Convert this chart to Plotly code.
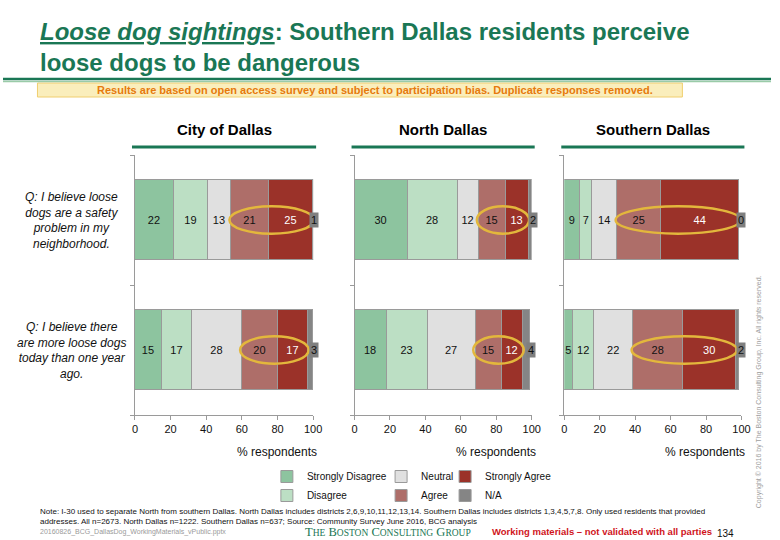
import plotly.graph_objects as go

# ---------------- data ----------------
panels = ["City of Dallas", "North Dallas", "Southern Dallas"]
questions = [
    "Q: I believe loose<br>dogs are a safety<br>problem in my<br>neighborhood.",
    "Q: I believe there<br>are more loose dogs<br>today than one year<br>ago.",
]
responses = ["Strongly Disagree", "Disagree", "Neutral", "Agree", "Strongly Agree", "N/A"]
colors = ["#8DC49F", "#BCDFC4", "#E0E0E0", "#AE6E69", "#9B3229", "#858585"]

city_safety = [22, 19, 13, 21, 25, 1]
city_more = [15, 17, 28, 20, 17, 3]
north_safety = [30, 28, 12, 15, 13, 2]
north_more = [18, 23, 27, 15, 12, 4]
south_safety = [9, 7, 14, 25, 44, 0]
south_more = [5, 12, 22, 28, 30, 2]

panel_data = [
    [city_safety, city_more],
    [north_safety, north_more],
    [south_safety, south_more],
]
x_ticks = [0, 20, 40, 60, 80, 100]

# ---------------- layout helpers ----------------
W, H = 780, 540
FONT = "Liberation Sans, Arial, Helvetica, sans-serif"
GREEN = "#1A7755"

def px(x):
    return x / W

def py(y):
    return (H - y) / H

def note(x, y, text, size, color="#111111", xanchor="center", yanchor="middle", **kw):
    fig.add_annotation(x=x, y=y, xref=kw.pop("xref", "paper"), yref=kw.pop("yref", "paper"),
                       xanchor=xanchor, yanchor=yanchor, text=text, showarrow=False,
                       font=dict(family=kw.pop("family", FONT), size=size, color=color), **kw)

x_domains = [[px(134), px(315)], [px(357), px(537)], [px(570), px(750)]]
y_domain = [py(415), py(155)]

fig = go.Figure()

legend_of = {0: "legend", 1: "legend", 2: "legend2", 3: "legend2", 4: "legend3", 5: "legend3"}

for p, rows in enumerate(panel_data):
    xa = "x" if p == 0 else f"x{p+1}"
    ya = "y" if p == 0 else f"y{p+1}"
    for r, name in enumerate(responses):
        vals = [rows[0][r], rows[1][r]]
        fig.add_trace(go.Bar(
            x=vals, y=[0, 1], orientation="h", name=name,
            marker=dict(color=colors[r], line=dict(color="#9A9A9A", width=1)),
            width=0.62,
            text=[str(v) for v in vals] if name != "N/A" else None,
            textposition="inside" if name != "N/A" else "none",
            insidetextanchor="middle", textangle=0,
            insidetextfont=dict(family=FONT, size=11,
                                color="white" if name == "Strongly Agree" else "#111111"),
            xaxis=xa, yaxis=ya,
            showlegend=(p == 0), legend=legend_of[r],
            hoverinfo="skip",
        ))
    for ri in range(2):
        total = sum(rows[ri])
        # N/A label in a grey box at the bar end
        note(min(total, 100), ri, str(rows[ri][5]), 11, xref=xa, yref=ya,
             bgcolor="#7F7F7F", borderpad=1, xshift=1)
        # highlight ellipse around Agree + Strongly Agree
        agree_start = sum(rows[ri][:3])
        agree_end = sum(rows[ri][:5])
        fig.add_shape(
            type="circle", xref=xa, yref=ya,
            x0=agree_start - 1, x1=agree_end + 0.5,
            y0=ri - 0.105, y1=ri + 0.105,
            line=dict(color="#E3B73C", width=2.5),
        )
    dom = x_domains[p]
    note((dom[0] + dom[1]) / 2, py(130), f"<b>{panels[p]}</b>", 15, color="#000000")
    fig.add_shape(type="line", xref="paper", yref="paper",
                  x0=dom[0] - px(3), x1=dom[1] + px(3), y0=py(147), y1=py(147),
                  line=dict(color=GREEN, width=3))
    note(dom[1] + px(6), py(452), "% respondents", 12, xanchor="right")

axis_common_x = dict(
    range=[0, 100], tickvals=x_ticks, ticks="outside", ticklen=4,
    tickcolor="#9A9A9A", showline=True, linecolor="#9A9A9A", linewidth=1,
    showgrid=False, zeroline=False, fixedrange=True,
    tickfont=dict(family=FONT, size=11, color="#111111"),
)
axis_common_y = dict(
    range=[1.5, -0.5], tickvals=[-0.5, 0.5, 1.5], ticks="outside", ticklen=4,
    tickcolor="#9A9A9A", showline=True, linecolor="#9A9A9A", linewidth=1,
    showticklabels=False, showgrid=False, zeroline=False, fixedrange=True,
    domain=y_domain,
)

layout = dict(
    width=W, height=H, autosize=False,
    margin=dict(l=0, r=0, t=0, b=0),
    paper_bgcolor="white", plot_bgcolor="white",
    barmode="stack", bargap=0,
    uniformtext=dict(mode="show", minsize=11),
    font=dict(family=FONT, size=11, color="#111111"),
)
for p in range(3):
    sx = "" if p == 0 else str(p + 1)
    layout[f"xaxis{sx}"] = dict(axis_common_x, domain=x_domains[p], anchor=f"y{sx}")
    layout[f"yaxis{sx}"] = dict(axis_common_y, anchor=f"x{sx}")

leg_common = dict(orientation="v", xanchor="left", yanchor="top", bgcolor="rgba(0,0,0,0)",
                  font=dict(family=FONT, size=10, color="#111111"), y=py(462),
                  traceorder="normal", tracegroupgap=0,
                  itemclick=False, itemdoubleclick=False)
layout["legend"] = dict(leg_common, x=px(268))
layout["legend2"] = dict(leg_common, x=px(384))
layout["legend3"] = dict(leg_common, x=px(449))
fig.update_layout(**layout)

# ---------------- slide decorations ----------------
note(px(36), py(16), "<b><i><u>Loose dog sightings</u></i>: Southern Dallas residents perceive<br>"
     "loose dogs to be dangerous</b>", 24, color=GREEN, xanchor="left", yanchor="top", align="left")
fig.add_shape(type="line", xref="paper", yref="paper", x0=0, x1=1, y0=py(79), y1=py(79),
              line=dict(color=GREEN, width=2.5))
fig.add_shape(type="line", xref="paper", yref="paper", x0=0, x1=1, y0=py(81.5), y1=py(81.5),
              line=dict(color="#9ACBA8", width=1.5))
fig.add_shape(type="rect", xref="paper", yref="paper", x0=px(35), x1=px(690), y0=py(97), y1=py(83),
              fillcolor="#FAEEBC", line=dict(color="#F0CE6E", width=1), layer="below")
note(px(378), py(90), "<b>Results are based on open access survey and subject to participation bias. "
     "Duplicate responses removed.</b>", 11, color="#E67A0C")
for i, q in enumerate(questions):
    note(px(70), i, f"<i>{q}</i>", 12, yref="y", align="center")

note(px(36), py(505), "Note: I-30 used to separate North from southern Dallas. North Dallas includes districts "
     "2,6,9,10,11,12,13,14. Southern Dallas includes districts 1,3,4,5,7,8. Only used residents that provided<br>"
     "addresses. All n=2673. North Dallas n=1222. Southern Dallas n=637; Source: Community Survey June 2016, "
     "BCG analysis", 8, xanchor="left", yanchor="top", align="left")
note(px(36), py(532), "20160826_BCG_DallasDog_WorkingMaterials_vPublic.pptx", 7, color="#9A9A9A",
     xanchor="left")
sc = "font-size:9.5px"
note(px(391), py(532), f"T<span style='{sc}'>HE</span> B<span style='{sc}'>OSTON</span> "
     f"C<span style='{sc}'>ONSULTING</span> G<span style='{sc}'>ROUP</span>", 12.5, color=GREEN,
     family="Liberation Serif, Times New Roman, serif")
note(px(722), py(531), "<b>Working materials – not validated with all parties</b>", 9.5,
     color="#D0141C", xanchor="right")
note(px(723), py(533), "134", 10, xanchor="left")
note(px(768), py(392), "Copyright © 2016 by The Boston Consulting Group, Inc. All rights reserved.", 7,
     color="#A0A0A0", textangle=-90)

fig.write_html("out.html")
